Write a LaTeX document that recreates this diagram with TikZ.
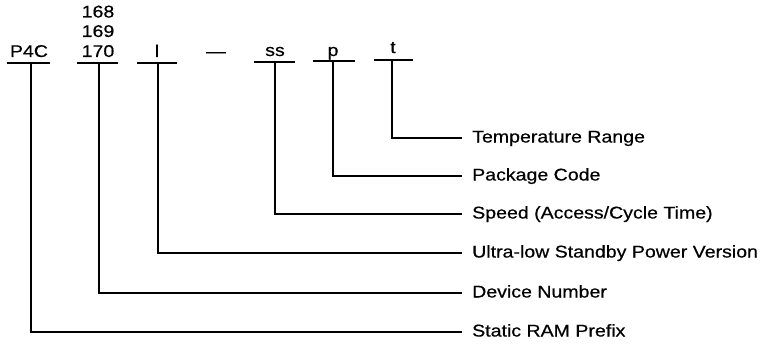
\documentclass[tikz,border=0pt]{standalone}
\usepackage{fontspec}
\setmainfont[FakeStretch=1.15,FakeBold=0.5]{Liberation Sans}
\begin{document}
\begin{tikzpicture}[x=1pt,y=-1pt,
  lbl/.style={font=\fontsize{17}{19}\selectfont, inner sep=0pt},
  top/.style={lbl, anchor=base},
  desc/.style={lbl, anchor=west, inner xsep=10pt, text height=12pt, text depth=3pt},
  ln/.style={line width=1.4pt}]
\useasboundingbox (0,0) rectangle (763,345);
% top part number fields
\node[top] (pfx) at (29,57) {P4C};
\node[top] (n170) at (98,57) {170};
\node[top] (n169) at (98,37) {169};
\node[top] (n168) at (98,17.5) {168};
\node[top] (lo) at (157,57) {l};
\node[top] (dash) at (216,57) {—};
\node[top] (ss) at (275,56) {ss};
\node[top] (pk) at (333,56) {p};
\node[top] (tr) at (393,53) {t};
% descriptions
\node[desc] (dT) at (462,138) {Temperature Range};
\node[desc] (dP) at (462,176) {Package Code};
\node[desc] (dS) at (462,214) {Speed (Access/Cycle Time)};
\node[desc] (dU) at (462,253) {Ultra-low Standby Power Version};
\node[desc] (dD) at (462,293) {Device Number};
\node[desc] (dR) at (462,332) {Static RAM Prefix};
% underlines
\coordinate (uP1) at (7,63);   \coordinate (uP2) at (50,63);  \coordinate (vP) at (31,63);
\coordinate (uN1) at (77,63);  \coordinate (uN2) at (118,63); \coordinate (vN) at (99,63);
\coordinate (uL1) at (137,63); \coordinate (uL2) at (177,63); \coordinate (vL) at (158,63);
\coordinate (uS1) at (254,62); \coordinate (uS2) at (295,62); \coordinate (vS) at (275,62);
\coordinate (uK1) at (313,61); \coordinate (uK2) at (355,61); \coordinate (vK) at (333,61);
\coordinate (uT1) at (374,60); \coordinate (uT2) at (413,60); \coordinate (vT) at (392,60);
\draw[ln] (uP1) -- (uP2);
\draw[ln] (uN1) -- (uN2);
\draw[ln] (uL1) -- (uL2);
\draw[ln] (uS1) -- (uS2);
\draw[ln] (uK1) -- (uK2);
\draw[ln] (uT1) -- (uT2);
% connectors
\draw[ln] (vT) |- (dT.west);
\draw[ln] (vK) |- (dP.west);
\draw[ln] (vS) |- (dS.west);
\draw[ln] (vL) |- (dU.west);
\draw[ln] (vN) |- (dD.west);
\draw[ln] (vP) |- (dR.west);
\end{tikzpicture}
\end{document}
